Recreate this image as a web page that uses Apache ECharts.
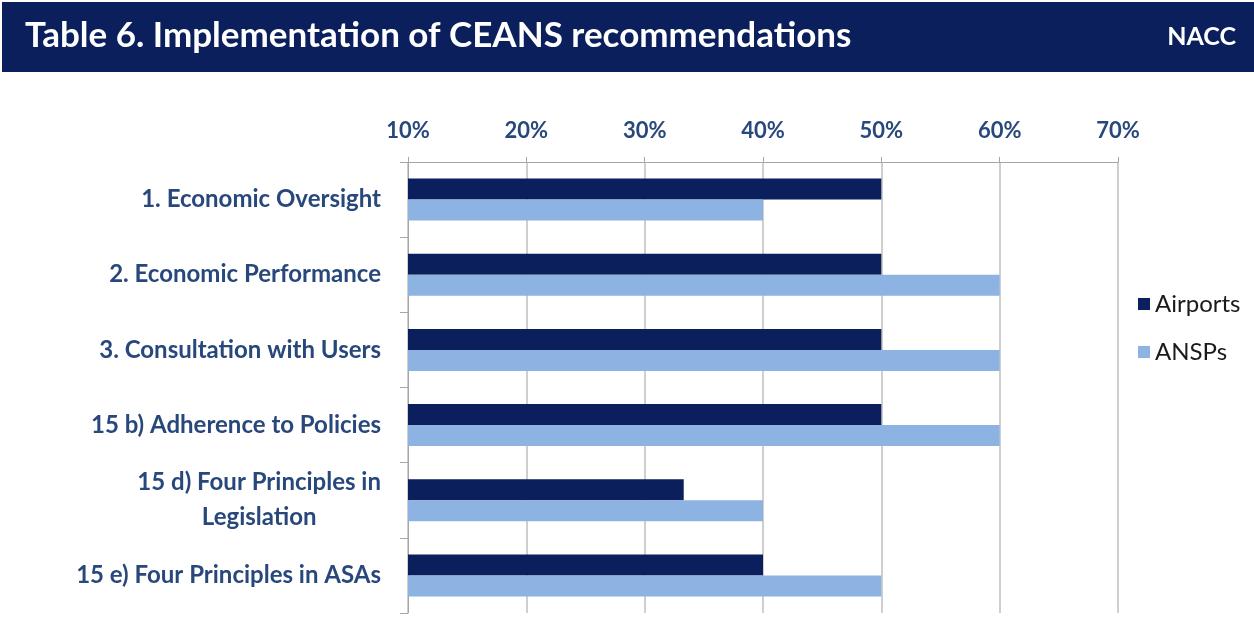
<!DOCTYPE html>
<html>
<head>
<meta charset="utf-8">
<script src="https://cdn.jsdelivr.net/npm/echarts@6/dist/echarts.min.js"></script>
<style>
  html, body { margin: 0; padding: 0; background: #fff; }
  #main { width: 1254px; height: 644px; }
</style>
</head>
<body>
<div id="main"></div>
<script>
var categories = [
  '1. Economic Oversight',
  '2. Economic Performance',
  '3. Consultation with Users',
  '15 b) Adherence to Policies',
  '15 d) Four Principles in\nLegislation',
  '15 e) Four Principles in ASAs'
];
var airports = [50, 50, 50, 50, 33.3, 40];
var ansps = [40, 60, 60, 60, 40, 50];

var navy = '#0b1f5c';
var labelBlue = '#28487c';

var myChart = echarts.init(document.getElementById('main'));

var option = {
  textStyle: { fontFamily: 'Lato' },
  graphic: [
    {
      type: 'rect',
      shape: { x: 2, y: 2, width: 1252, height: 70 },
      style: { fill: navy },
      z: 0
    },
    {
      type: 'text',
      left: 25, top: 18,
      style: {
        text: 'Table 6. Implementation of CEANS recommendations',
        fill: '#fff', font: 'bold 35px Lato'
      }
    },
    {
      type: 'text',
      right: 18, top: 24,
      style: { text: 'NACC', fill: '#fff', font: 'bold 25px Lato' }
    }
  ],
  color: [navy, '#8db3e2'],
  legend: {
    orient: 'vertical',
    left: 1133,
    top: 287,
    itemWidth: 12,
    itemHeight: 12,
    itemGap: 24,
    icon: 'rect',
    textStyle: { fontSize: 24, color: '#1a1a1a', fontFamily: 'Lato' },
    data: ['Airports', 'ANSPs']
  },
  grid: { left: 408, right: 136, top: 162, bottom: 31 },
  xAxis: {
    type: 'value',
    position: 'top',
    min: 10,
    max: 70,
    interval: 10,
    axisLabel: {
      formatter: '{value}%',
      color: labelBlue,
      fontSize: 22,
      fontWeight: 'bold',
      margin: 20
    },
    axisLine: { show: true, lineStyle: { color: '#a6a6a6' } },
    axisTick: { show: true, length: 5, lineStyle: { color: '#a6a6a6' } },
    splitLine: { show: true, lineStyle: { color: '#bfbfbf', width: 1.5 } }
  },
  yAxis: {
    type: 'category',
    inverse: true,
    data: categories,
    axisLine: { show: true, lineStyle: { color: '#a6a6a6' } },
    axisTick: { show: true, length: 8, lineStyle: { color: '#a6a6a6' } },
    axisLabel: {
      color: labelBlue,
      fontSize: 24,
      fontWeight: 'bold',
      margin: 27,
      lineHeight: 35,
      formatter: function (v) {
        var parts = v.split('\n');
        if (parts.length > 1) {
          return parts[0] + '\n{c|' + parts[1] + '}';
        }
        return v;
      },
      rich: {
        c: {
          align: 'center',
          color: labelBlue,
          fontSize: 24,
          fontWeight: 'bold',
          lineHeight: 35
        }
      }
    }
  },
  series: [
    {
      name: 'Airports',
      type: 'bar',
      barWidth: 21,
      barGap: '0%',
      data: airports
    },
    {
      name: 'ANSPs',
      type: 'bar',
      barWidth: 21,
      barGap: '0%',
      data: ansps
    }
  ]
};

myChart.setOption(option);
</script>
</body>
</html>
